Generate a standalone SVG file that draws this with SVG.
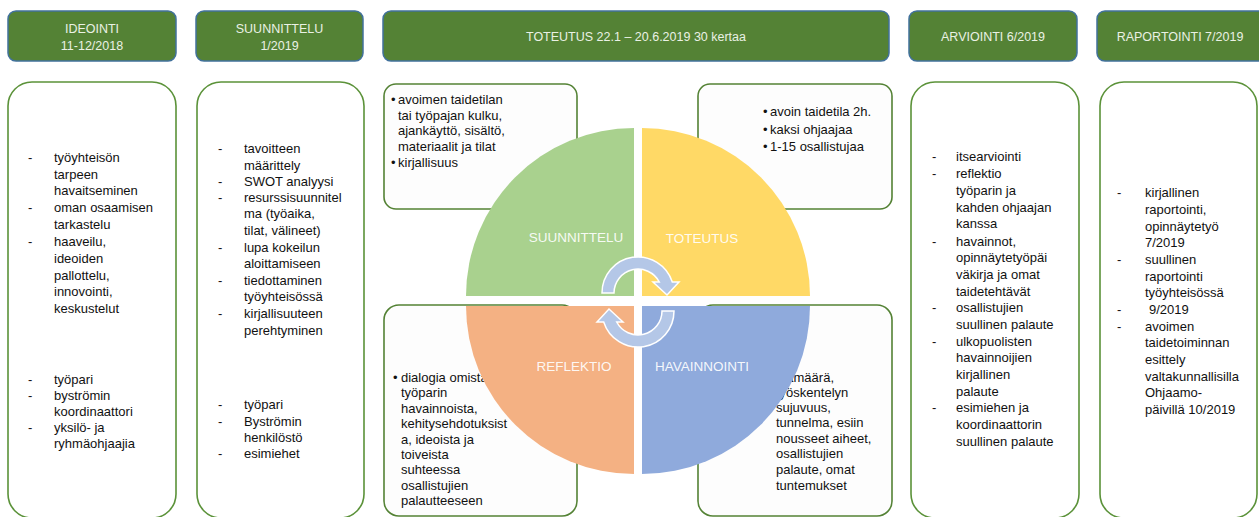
<svg xmlns="http://www.w3.org/2000/svg" width="1259" height="517" viewBox="0 0 1259 517">
<style>
.hdr{fill:#548235;stroke:#41719C;stroke-width:1.5}
.ht{font-family:"Liberation Sans",Arial,sans-serif;font-size:12.5px;fill:#EAF1E4;text-anchor:middle}
.col{fill:#FFFFFF;stroke:#5B9239;stroke-width:1.6}
.box{fill:#FDFDFD;stroke:#548235;stroke-width:1.6}
.t{font-family:"Liberation Sans",Arial,sans-serif;font-size:13px;fill:#111111}
.ql{font-family:"Liberation Sans",Arial,sans-serif;font-size:13.5px;fill:#FFFFFF;fill-opacity:0.92;text-anchor:middle}
.arr{fill:#B4C7E7;stroke:#FFFFFF;stroke-width:1.5}
</style>
<rect width="1259" height="517" fill="#FFFFFF"/>

<g id="h-ideointi">
<rect class="hdr" x="8" y="11" width="168" height="50" rx="8"/>
<text class="ht" x="92" y="33">IDEOINTI</text>
<text class="ht" x="92" y="50">11-12/2018</text>
</g>
<g id="h-suunnittelu">
<rect class="hdr" x="196" y="11" width="167" height="50" rx="8"/>
<text class="ht" x="279.5" y="33">SUUNNITTELU</text>
<text class="ht" x="279.5" y="50">1/2019</text>
</g>
<g id="h-toteutus">
<rect class="hdr" x="383" y="11" width="506" height="50" rx="8"/>
<text class="ht" x="636" y="41">TOTEUTUS 22.1 – 20.6.2019 30 kertaa</text>
</g>
<g id="h-arviointi">
<rect class="hdr" x="909" y="11" width="168" height="50" rx="8"/>
<text class="ht" x="993" y="41">ARVIOINTI 6/2019</text>
</g>
<g id="h-raportointi">
<rect class="hdr" x="1097" y="11" width="175" height="50" rx="8"/>
<text class="ht" x="1180" y="41">RAPORTOINTI 7/2019</text>
</g>

<g id="c-ideointi">
<rect class="col" x="8" y="82" width="168" height="436" rx="24"/>
<g class="t">
<text x="28" y="162">-</text><text x="54" y="162">työyhteisön</text>
<text x="54" y="179">tarpeen</text>
<text x="54" y="195">havaitseminen</text>
<text x="28" y="212">-</text><text x="54" y="212">oman osaamisen</text>
<text x="54" y="229">tarkastelu</text>
<text x="28" y="246">-</text><text x="54" y="246">haaveilu,</text>
<text x="54" y="263">ideoiden</text>
<text x="54" y="280">pallottelu,</text>
<text x="54" y="296">innovointi,</text>
<text x="54" y="313">keskustelut</text>
<text x="28" y="384">-</text><text x="54" y="384">työpari</text>
<text x="28" y="400">-</text><text x="54" y="400">byströmin</text>
<text x="54" y="416">koordinaattori</text>
<text x="28" y="432">-</text><text x="54" y="432">yksilö- ja</text>
<text x="54" y="448">ryhmäohjaajia</text>
</g>
</g>

<g id="c-suunnittelu">
<rect class="col" x="197" y="82" width="167" height="436" rx="24"/>
<g class="t">
<text x="218" y="153">-</text><text x="244" y="153">tavoitteen</text>
<text x="244" y="170">määrittely</text>
<text x="218" y="186">-</text><text x="244" y="186">SWOT analyysi</text>
<text x="218" y="202">-</text><text x="244" y="202">resurssisuunnitel</text>
<text x="244" y="218">ma (työaika,</text>
<text x="244" y="235">tilat, välineet)</text>
<text x="218" y="252">-</text><text x="244" y="252">lupa kokeilun</text>
<text x="244" y="268">aloittamiseen</text>
<text x="218" y="285">-</text><text x="244" y="285">tiedottaminen</text>
<text x="244" y="301">työyhteisössä</text>
<text x="218" y="318">-</text><text x="244" y="318">kirjallisuuteen</text>
<text x="244" y="335">perehtyminen</text>
<text x="218" y="409">-</text><text x="244" y="409">työpari</text>
<text x="218" y="426">-</text><text x="244" y="426">Byströmin</text>
<text x="244" y="442">henkilöstö</text>
<text x="218" y="458">-</text><text x="244" y="458">esimiehet</text>
</g>
</g>

<g id="c-arviointi">
<rect class="col" x="911" y="82" width="168" height="436" rx="24"/>
<g class="t">
<text x="932" y="161">-</text><text x="956" y="161">itsearviointi</text>
<text x="932" y="178">-</text><text x="956" y="178">reflektio</text>
<text x="956" y="195">työparin ja</text>
<text x="956" y="212">kahden ohjaajan</text>
<text x="956" y="228">kanssa</text>
<text x="932" y="246">-</text><text x="956" y="246">havainnot,</text>
<text x="956" y="262">opinnäytetyöpäi</text>
<text x="956" y="279">väkirja ja omat</text>
<text x="956" y="296">taidetehtävät</text>
<text x="932" y="312">-</text><text x="956" y="312">osallistujien</text>
<text x="956" y="329">suullinen palaute</text>
<text x="932" y="346">-</text><text x="956" y="346">ulkopuolisten</text>
<text x="956" y="362">havainnoijien</text>
<text x="956" y="379">kirjallinen</text>
<text x="956" y="396">palaute</text>
<text x="932" y="412">-</text><text x="956" y="412">esimiehen ja</text>
<text x="956" y="429">koordinaattorin</text>
<text x="956" y="446">suullinen palaute</text>
</g>
</g>

<g id="c-raportointi">
<rect class="col" x="1100" y="82" width="157" height="436" rx="24"/>
<g class="t">
<text x="1117" y="197">-</text><text x="1145" y="197">kirjallinen</text>
<text x="1145" y="214">raportointi,</text>
<text x="1145" y="231">opinnäytetyö</text>
<text x="1145" y="247">7/2019</text>
<text x="1117" y="264">-</text><text x="1145" y="264">suullinen</text>
<text x="1145" y="281">raportointi</text>
<text x="1145" y="297">työyhteisössä</text>
<text x="1117" y="314">-</text><text x="1149" y="314">9/2019</text>
<text x="1117" y="331">-</text><text x="1145" y="331">avoimen</text>
<text x="1145" y="347">taidetoiminnan</text>
<text x="1145" y="364">esittely</text>
<text x="1145" y="381">valtakunnallisilla</text>
<text x="1145" y="397">Ohjaamo-</text>
<text x="1145" y="414">päivillä 10/2019</text>
</g>
</g>

<g id="b-suunnittelu">
<rect class="box" x="384" y="84" width="193" height="125" rx="12"/>
<g class="t">
<text x="391" y="104">•</text><text x="398" y="104">avoimen taidetilan</text>
<text x="398" y="119.5">tai työpajan kulku,</text>
<text x="398" y="135">ajankäyttö, sisältö,</text>
<text x="398" y="150.5">materiaalit ja tilat</text>
<text x="391" y="167">•</text><text x="398" y="167">kirjallisuus</text>
</g>
</g>

<g id="b-toteutus">
<rect class="box" x="698" y="84" width="194" height="125" rx="12"/>
<g class="t">
<text x="763" y="116">•</text><text x="770" y="116">avoin taidetila 2h.</text>
<text x="763" y="134">•</text><text x="770" y="134">kaksi ohjaajaa</text>
<text x="763" y="151">•</text><text x="770" y="151">1-15 osallistujaa</text>
</g>
</g>

<g id="b-reflektio">
<rect class="box" x="384" y="305" width="193" height="211" rx="15"/>
<g class="t">
<text x="393" y="382">•</text><text x="401" y="382">dialogia omista ja</text>
<text x="401" y="397">työparin</text>
<text x="401" y="413">havainnoista,</text>
<text x="401" y="428">kehitysehdotuksist</text>
<text x="401" y="444">a, ideoista ja</text>
<text x="401" y="459">toiveista</text>
<text x="401" y="474">suhteessa</text>
<text x="401" y="490">osallistujien</text>
<text x="401" y="505">palautteeseen</text>
</g>
</g>

<g id="b-havainnointi">
<rect class="box" x="698" y="305" width="194" height="211" rx="15"/>
<g class="t">
<text x="834" y="382" text-anchor="end">osallistujamäärä,</text>
<text x="776" y="397">työskentelyn</text>
<text x="776" y="412">sujuvuus,</text>
<text x="776" y="427">tunnelma, esiin</text>
<text x="776" y="443">nousseet aiheet,</text>
<text x="776" y="458">osallistujien</text>
<text x="776" y="474">palaute, omat</text>
<text x="776" y="490">tuntemukset</text>
</g>
</g>

<g id="q-suunnittelu">
<path d="M634 296 L466 296 A168 168 0 0 1 634 128 Z" fill="#A9D18E"/>
<text class="ql" x="576" y="242">SUUNNITTELU</text>
</g>
<g id="q-toteutus">
<path d="M642 296 L642 128 A168 168 0 0 1 810 296 Z" fill="#FFD966"/>
<text class="ql" x="702" y="243">TOTEUTUS</text>
</g>
<g id="q-reflektio">
<path d="M634 306 L634 474 A168 168 0 0 1 466 306 Z" fill="#F4B183"/>
<text class="ql" x="574" y="371">REFLEKTIO</text>
</g>
<g id="q-havainnointi">
<path d="M642 306 L810 306 A168 168 0 0 1 642 474 Z" fill="#8FAADC"/>
<text class="ql" x="702" y="371">HAVAINNOINTI</text>
</g>

<g id="connectors">
<path id="cyc-top" class="arr" d="M602 293 A36 36 0 0 1 672.3 282 L679 282 L667 295 L653 282 L659.3 282 A24 24 0 0 0 614 293 Z"/>
<path id="cyc-bottom" class="arr" transform="rotate(180 638 302)" d="M602 293 A36 36 0 0 1 672.3 282 L679 282 L667 295 L653 282 L659.3 282 A24 24 0 0 0 614 293 Z"/>
</g>
</svg>
